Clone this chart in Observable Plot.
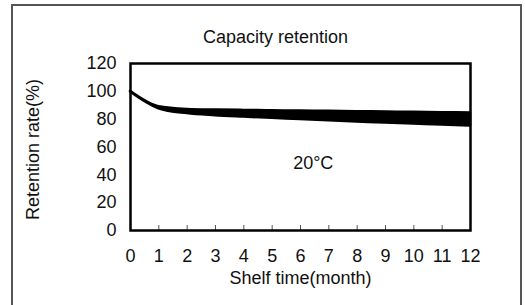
<!DOCTYPE html>
<html><head>
<meta charset="utf-8">
<script src="https://cdn.jsdelivr.net/npm/d3@7"></script>
<script src="https://cdn.jsdelivr.net/npm/@observablehq/plot@0.6"></script>
<style>
body{margin:0;overflow:hidden;background:#fff;width:525px;height:305px;position:relative;font-family:"Liberation Sans",Arial,sans-serif;}
#frame{position:absolute;left:11px;top:4px;width:511px;height:320px;border:2px solid #555;border-bottom:none;box-sizing:border-box;}
#chart{position:absolute;left:0;top:0;}
</style></head><body>
<div id="frame"></div>
<div id="chart"></div>
<script>
const title = "Capacity retention";
const xLabel = "Shelf time(month)";
const yLabel = "Retention rate(%)";
const annotation = "20°C";
const annotationAt = [6.45, 48];
const months = [0,1,2,3,4,5,6,7,8,9,10,11,12];
const upper = [100, 89, 87, 86.5, 86.3, 86, 85.8, 85.6, 85.4, 85.1, 84.9, 84.7, 84.5];
const lower = [99.5, 87.5, 84, 82.5, 81.5, 80.6, 79.7, 78.8, 78, 77.2, 76.5, 75.8, 75];
const xTicks = [0,1,2,3,4,5,6,7,8,9,10,11,12];
const yTicks = [0,20,40,60,80,100,120];

const data = months.map((m, i) => ({month: m, upper: upper[i], lower: lower[i]}));
const font = "'Liberation Sans', Arial, sans-serif";

const chart = Plot.plot({
  width: 525, height: 305,
  marginLeft: 130, marginRight: 55, marginTop: 63, marginBottom: 75,
  style: {fontFamily: font, fontSize: "18px", background: "transparent", color: "#111", overflow: "visible"},
  x: {domain: [0, 12], label: null},
  y: {domain: [0, 120], label: null},
  marks: [
    Plot.areaY(data, {x: "month", y1: "lower", y2: "upper", fill: "#000", stroke: "#000", strokeWidth: 2.5, curve: "monotone-x"}),
    Plot.axisX({ticks: xTicks, tickSize: -5, text: null, stroke: "#555", strokeWidth: 1}),
    Plot.axisX({ticks: xTicks, tickSize: 0, tickPadding: 19, fontSize: 18}),
    Plot.axisY({ticks: yTicks, tickSize: 0, tickPadding: 14, fontSize: 18}),
    Plot.frame({stroke: "#000", strokeWidth: 2.5}),
    Plot.text([title], {frameAnchor: "top", dx: -25, dy: -33, fontSize: 18, fill: "#111"}),
    Plot.text([xLabel], {frameAnchor: "bottom", dy: 53, fontSize: 18, fill: "#111"}),
    Plot.text([yLabel], {frameAnchor: "left", textAnchor: "middle", dx: -97, dy: 2.5, rotate: -90, fontSize: 18, fill: "#111"}),
    Plot.text([annotation], {x: () => annotationAt[0], y: () => annotationAt[1], fontSize: 18, fill: "#111"})
  ]
});
document.getElementById("chart").appendChild(chart);
</script>
</body></html>
